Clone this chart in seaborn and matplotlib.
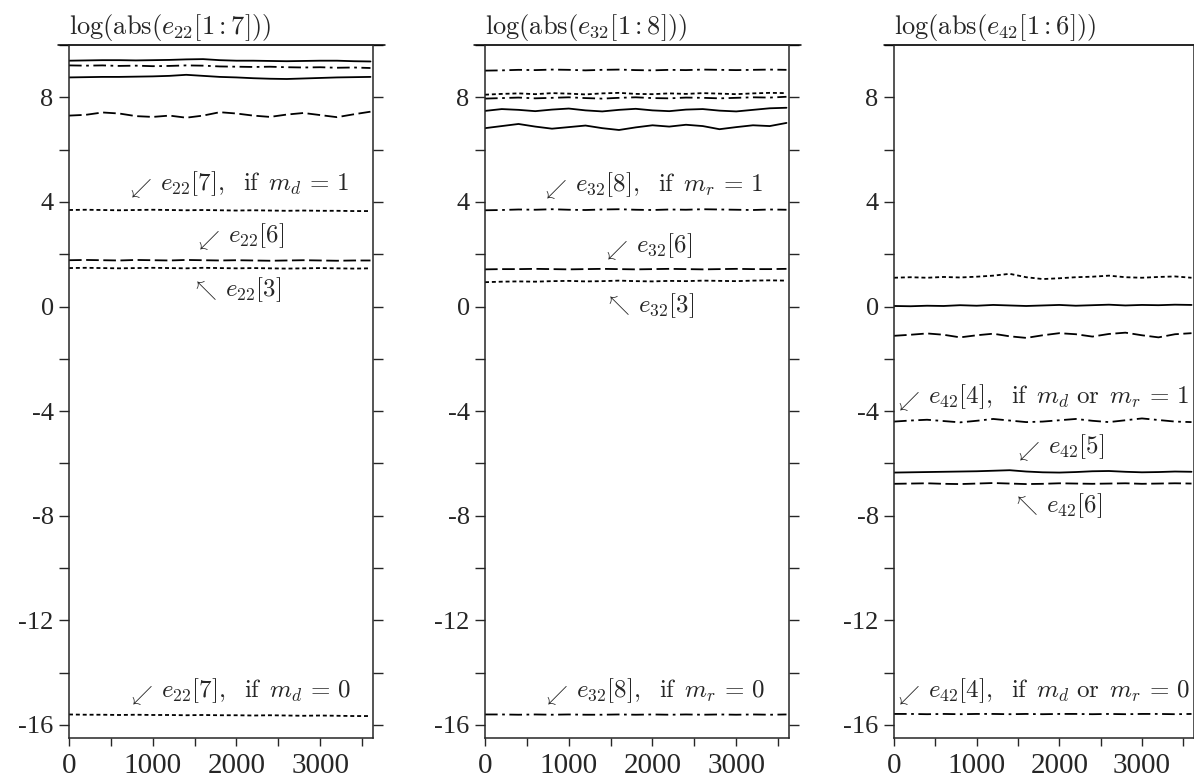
import numpy as np
import pandas as pd
import matplotlib
matplotlib.use('Agg')
import matplotlib.pyplot as plt
import seaborn as sns
from matplotlib.ticker import MultipleLocator, FixedLocator

# 时间步
steps = [0, 200, 400, 600, 800, 1000, 1200, 1400, 1600, 1800,
         2000, 2200, 2400, 2600, 2800, 3000, 3200, 3400, 3600]

# ---- e22 ----
e22_a = [9.40, 9.41, 9.42, 9.42, 9.41, 9.42, 9.43, 9.45, 9.46, 9.42, 9.40, 9.40, 9.39, 9.38, 9.39, 9.40, 9.40, 9.38, 9.37]
e22_b = [9.22, 9.21, 9.22, 9.20, 9.21, 9.19, 9.20, 9.22, 9.21, 9.18, 9.17, 9.16, 9.17, 9.15, 9.14, 9.15, 9.13, 9.14, 9.12]
e22_c = [8.76, 8.77, 8.78, 8.78, 8.79, 8.80, 8.82, 8.86, 8.82, 8.78, 8.76, 8.73, 8.71, 8.70, 8.72, 8.74, 8.76, 8.77, 8.78]
e22_d = [7.30, 7.33, 7.42, 7.38, 7.28, 7.25, 7.30, 7.22, 7.30, 7.43, 7.38, 7.30, 7.25, 7.34, 7.40, 7.32, 7.24, 7.35, 7.45]
e22_7_md1 = [3.69, 3.70, 3.69, 3.68, 3.69, 3.70, 3.69, 3.68, 3.69, 3.68, 3.67, 3.68, 3.67, 3.66, 3.67, 3.66, 3.66, 3.65, 3.65]
e22_6 = [1.77, 1.78, 1.77, 1.76, 1.78, 1.77, 1.76, 1.78, 1.77, 1.76, 1.77, 1.76, 1.75, 1.76, 1.77, 1.76, 1.75, 1.76, 1.76]
e22_3 = [1.47, 1.48, 1.47, 1.46, 1.47, 1.48, 1.47, 1.46, 1.48, 1.47, 1.46, 1.47, 1.46, 1.45, 1.46, 1.47, 1.46, 1.45, 1.46]
e22_7_md0 = [-15.60, -15.61, -15.61, -15.62, -15.61, -15.62, -15.62, -15.63, -15.62, -15.63, -15.63, -15.64, -15.63, -15.64, -15.65, -15.64, -15.65, -15.66, -15.66]

# ---- e32 ----
e32_a = [9.02, 9.03, 9.05, 9.04, 9.06, 9.05, 9.03, 9.05, 9.06, 9.04, 9.03, 9.05, 9.04, 9.06, 9.05, 9.04, 9.05, 9.06, 9.05]
e32_b = [8.10, 8.13, 8.15, 8.12, 8.16, 8.14, 8.11, 8.15, 8.17, 8.13, 8.12, 8.15, 8.13, 8.16, 8.14, 8.12, 8.15, 8.17, 8.16]
e32_c = [7.95, 7.97, 7.99, 7.96, 7.98, 8.00, 7.97, 7.95, 7.98, 8.00, 7.97, 7.96, 7.99, 7.98, 7.96, 7.98, 8.00, 7.99, 8.02]
e32_d = [7.48, 7.55, 7.52, 7.47, 7.53, 7.57, 7.50, 7.46, 7.52, 7.56, 7.50, 7.47, 7.53, 7.55, 7.49, 7.46, 7.52, 7.58, 7.60]
e32_e = [6.82, 6.90, 6.98, 6.88, 6.80, 6.86, 6.92, 6.82, 6.75, 6.85, 6.93, 6.88, 6.95, 6.90, 6.78, 6.86, 6.93, 6.90, 7.02]
e32_8_mr1 = [3.68, 3.69, 3.71, 3.70, 3.72, 3.70, 3.69, 3.71, 3.72, 3.70, 3.69, 3.71, 3.70, 3.72, 3.71, 3.70, 3.69, 3.71, 3.70]
e32_6 = [1.42, 1.43, 1.43, 1.44, 1.43, 1.42, 1.43, 1.44, 1.43, 1.42, 1.43, 1.44, 1.43, 1.42, 1.43, 1.44, 1.43, 1.43, 1.44]
e32_3 = [0.93, 0.95, 0.96, 0.95, 0.97, 0.98, 0.96, 0.97, 0.99, 0.97, 0.96, 0.98, 0.97, 0.99, 0.98, 0.97, 0.99, 1.00, 0.99]
e32_8_mr0 = [-15.60, -15.60, -15.61, -15.60, -15.61, -15.60, -15.61, -15.61, -15.60, -15.61, -15.60, -15.61, -15.60, -15.61, -15.60, -15.61, -15.60, -15.61, -15.60]

# ---- e42 ----
e42_a = [1.10, 1.12, 1.10, 1.13, 1.11, 1.14, 1.18, 1.25, 1.12, 1.05, 1.08, 1.12, 1.14, 1.18, 1.12, 1.10, 1.13, 1.15, 1.10]
e42_b = [0.02, 0.01, 0.03, 0.02, 0.05, 0.03, 0.06, 0.04, 0.02, 0.04, 0.06, 0.03, 0.05, 0.07, 0.04, 0.06, 0.05, 0.07, 0.06]
e42_c = [-1.12, -1.08, -1.03, -1.08, -1.18, -1.10, -1.04, -1.14, -1.20, -1.10, -1.02, -1.06, -1.15, -1.05, -1.00, -1.10, -1.18, -1.06, -1.02]
e42_4_1 = [-4.40, -4.36, -4.33, -4.38, -4.43, -4.37, -4.30, -4.36, -4.42, -4.40, -4.35, -4.30, -4.37, -4.42, -4.35, -4.28, -4.34, -4.40, -4.42]
e42_5 = [-6.35, -6.34, -6.33, -6.32, -6.31, -6.30, -6.28, -6.26, -6.31, -6.34, -6.35, -6.33, -6.30, -6.29, -6.32, -6.34, -6.33, -6.31, -6.32]
e42_6 = [-6.78, -6.77, -6.76, -6.78, -6.79, -6.77, -6.75, -6.77, -6.79, -6.78, -6.76, -6.77, -6.78, -6.77, -6.76, -6.78, -6.77, -6.76, -6.77]
e42_4_0 = [-15.58, -15.58, -15.59, -15.58, -15.59, -15.58, -15.58, -15.59, -15.58, -15.59, -15.58, -15.58, -15.59, -15.58, -15.59, -15.58, -15.58, -15.59, -15.58]

titles = [r'$\mathrm{log}(\mathrm{abs}(e_{22}[1:7]))$',
          r'$\mathrm{log}(\mathrm{abs}(e_{32}[1:8]))$',
          r'$\mathrm{log}(\mathrm{abs}(e_{42}[1:6]))$']

# 线型
SOLID = '-'
DASHED = (0, (7, 2.5))
DOTTED = (0, (2.2, 1.6))
DASHDOT = (0, (7, 2.5, 1.5, 2.5))

panels = [
    [(e22_a, SOLID), (e22_b, DASHDOT), (e22_c, SOLID), (e22_d, DASHED),
     (e22_7_md1, DOTTED), (e22_6, DASHED), (e22_3, DOTTED), (e22_7_md0, DOTTED)],
    [(e32_a, DASHDOT), (e32_b, DOTTED), (e32_c, DASHDOT), (e32_d, SOLID), (e32_e, SOLID),
     (e32_8_mr1, DASHDOT), (e32_6, DASHED), (e32_3, DOTTED), (e32_8_mr0, DASHDOT)],
    [(e42_a, DOTTED), (e42_b, SOLID), (e42_c, DASHED), (e42_4_1, DASHDOT),
     (e42_5, SOLID), (e42_6, DASHED), (e42_4_0, DASHDOT)],
]

# 注释 (x, y, 箭头, 文本)
SW = r'$\swarrow$'
NW = r'$\nwarrow$'
notes = [
    [(750, 4.70, SW, r'$e_{22}[7],\ \ \mathrm{if}\ \,m_d\,=\,1$'),
     (1560, 2.70, SW, r'$e_{22}[6]$'),
     (1525, 0.63, NW, r'$e_{22}[3]$'),
     (765, -14.70, SW, r'$e_{22}[7],\ \ \mathrm{if}\ \,m_d\,=\,0$')],
    [(736, 4.65, SW, r'$e_{32}[8],\ \ \mathrm{if}\ \,m_r\,=\,1$'),
     (1468, 2.32, SW, r'$e_{32}[6]$'),
     (1492, 0.05, NW, r'$e_{32}[3]$'),
     (750, -14.70, SW, r'$e_{32}[8],\ \ \mathrm{if}\ \,m_r\,=\,0$')],
    [(72, -3.45, SW, r'$e_{42}[4],\ \ \mathrm{if}\ \,m_d\ \mathrm{or}\ \,m_r\,=\,1$'),
     (1523, -5.36, SW, r'$e_{42}[5]$'),
     (1504, -7.61, NW, r'$e_{42}[6]$'),
     (72, -14.70, SW, r'$e_{42}[4],\ \ \mathrm{if}\ \,m_d\ \mathrm{or}\ \,m_r\,=\,0$')],
]

sns.set_style('ticks')
plt.rcParams['font.family'] = ['Liberation Serif', 'DejaVu Serif']
plt.rcParams['mathtext.fontset'] = 'cm'
plt.rcParams['axes.unicode_minus'] = False

fig = plt.figure(figsize=(11.94, 7.84), dpi=100)
lefts = [69, 485, 894]
widths = [304, 304, 300]

for i in range(3):
    ax = fig.add_axes([lefts[i] / 1194, 46 / 784, widths[i] / 1194, 693 / 784])
    for vals, ls in panels[i]:
        sns.lineplot(x=steps, y=vals, ax=ax, color='black', linewidth=1.3, linestyle=ls)
    for nx, ny, arr, txt in notes[i]:
        dy = -5 if arr == SW else 0
        ax.annotate(arr, (nx, ny), xytext=(-5, dy), textcoords='offset pixels',
                    fontsize=15, va='center', ha='left')
        ax.annotate(txt, (nx, ny), xytext=(28, 0), textcoords='offset pixels',
                    fontsize=18, va='center', ha='left')

    ax.set_xlim(0, 3630)
    ax.set_ylim(-16.5, 10)
    ax.xaxis.set_major_locator(FixedLocator([0, 1000, 2000, 3000]))
    ax.xaxis.set_minor_locator(FixedLocator([500, 1500, 2500, 3500]))
    ax.yaxis.set_major_locator(MultipleLocator(4))
    ax.yaxis.set_minor_locator(MultipleLocator(2))
    ax.tick_params(axis='y', which='both', left=True, right=True, direction='out',
                   length=7, width=1.0, labelsize=19, pad=4)
    ax.tick_params(axis='x', which='both', bottom=True, top=False, direction='out',
                   length=6, width=1.0, labelsize=21, pad=5)
    for sp in ax.spines.values():
        sp.set_linewidth(1.1)
    ax.axhline(10, xmin=-0.035, xmax=1.04, color='black', linewidth=1.1, clip_on=False)
    ax.set_title(titles[i], loc='left', fontsize=19, pad=8)
    ax.set_xlabel('')
    ax.set_ylabel('')

plt.savefig('out.png', dpi=100)
